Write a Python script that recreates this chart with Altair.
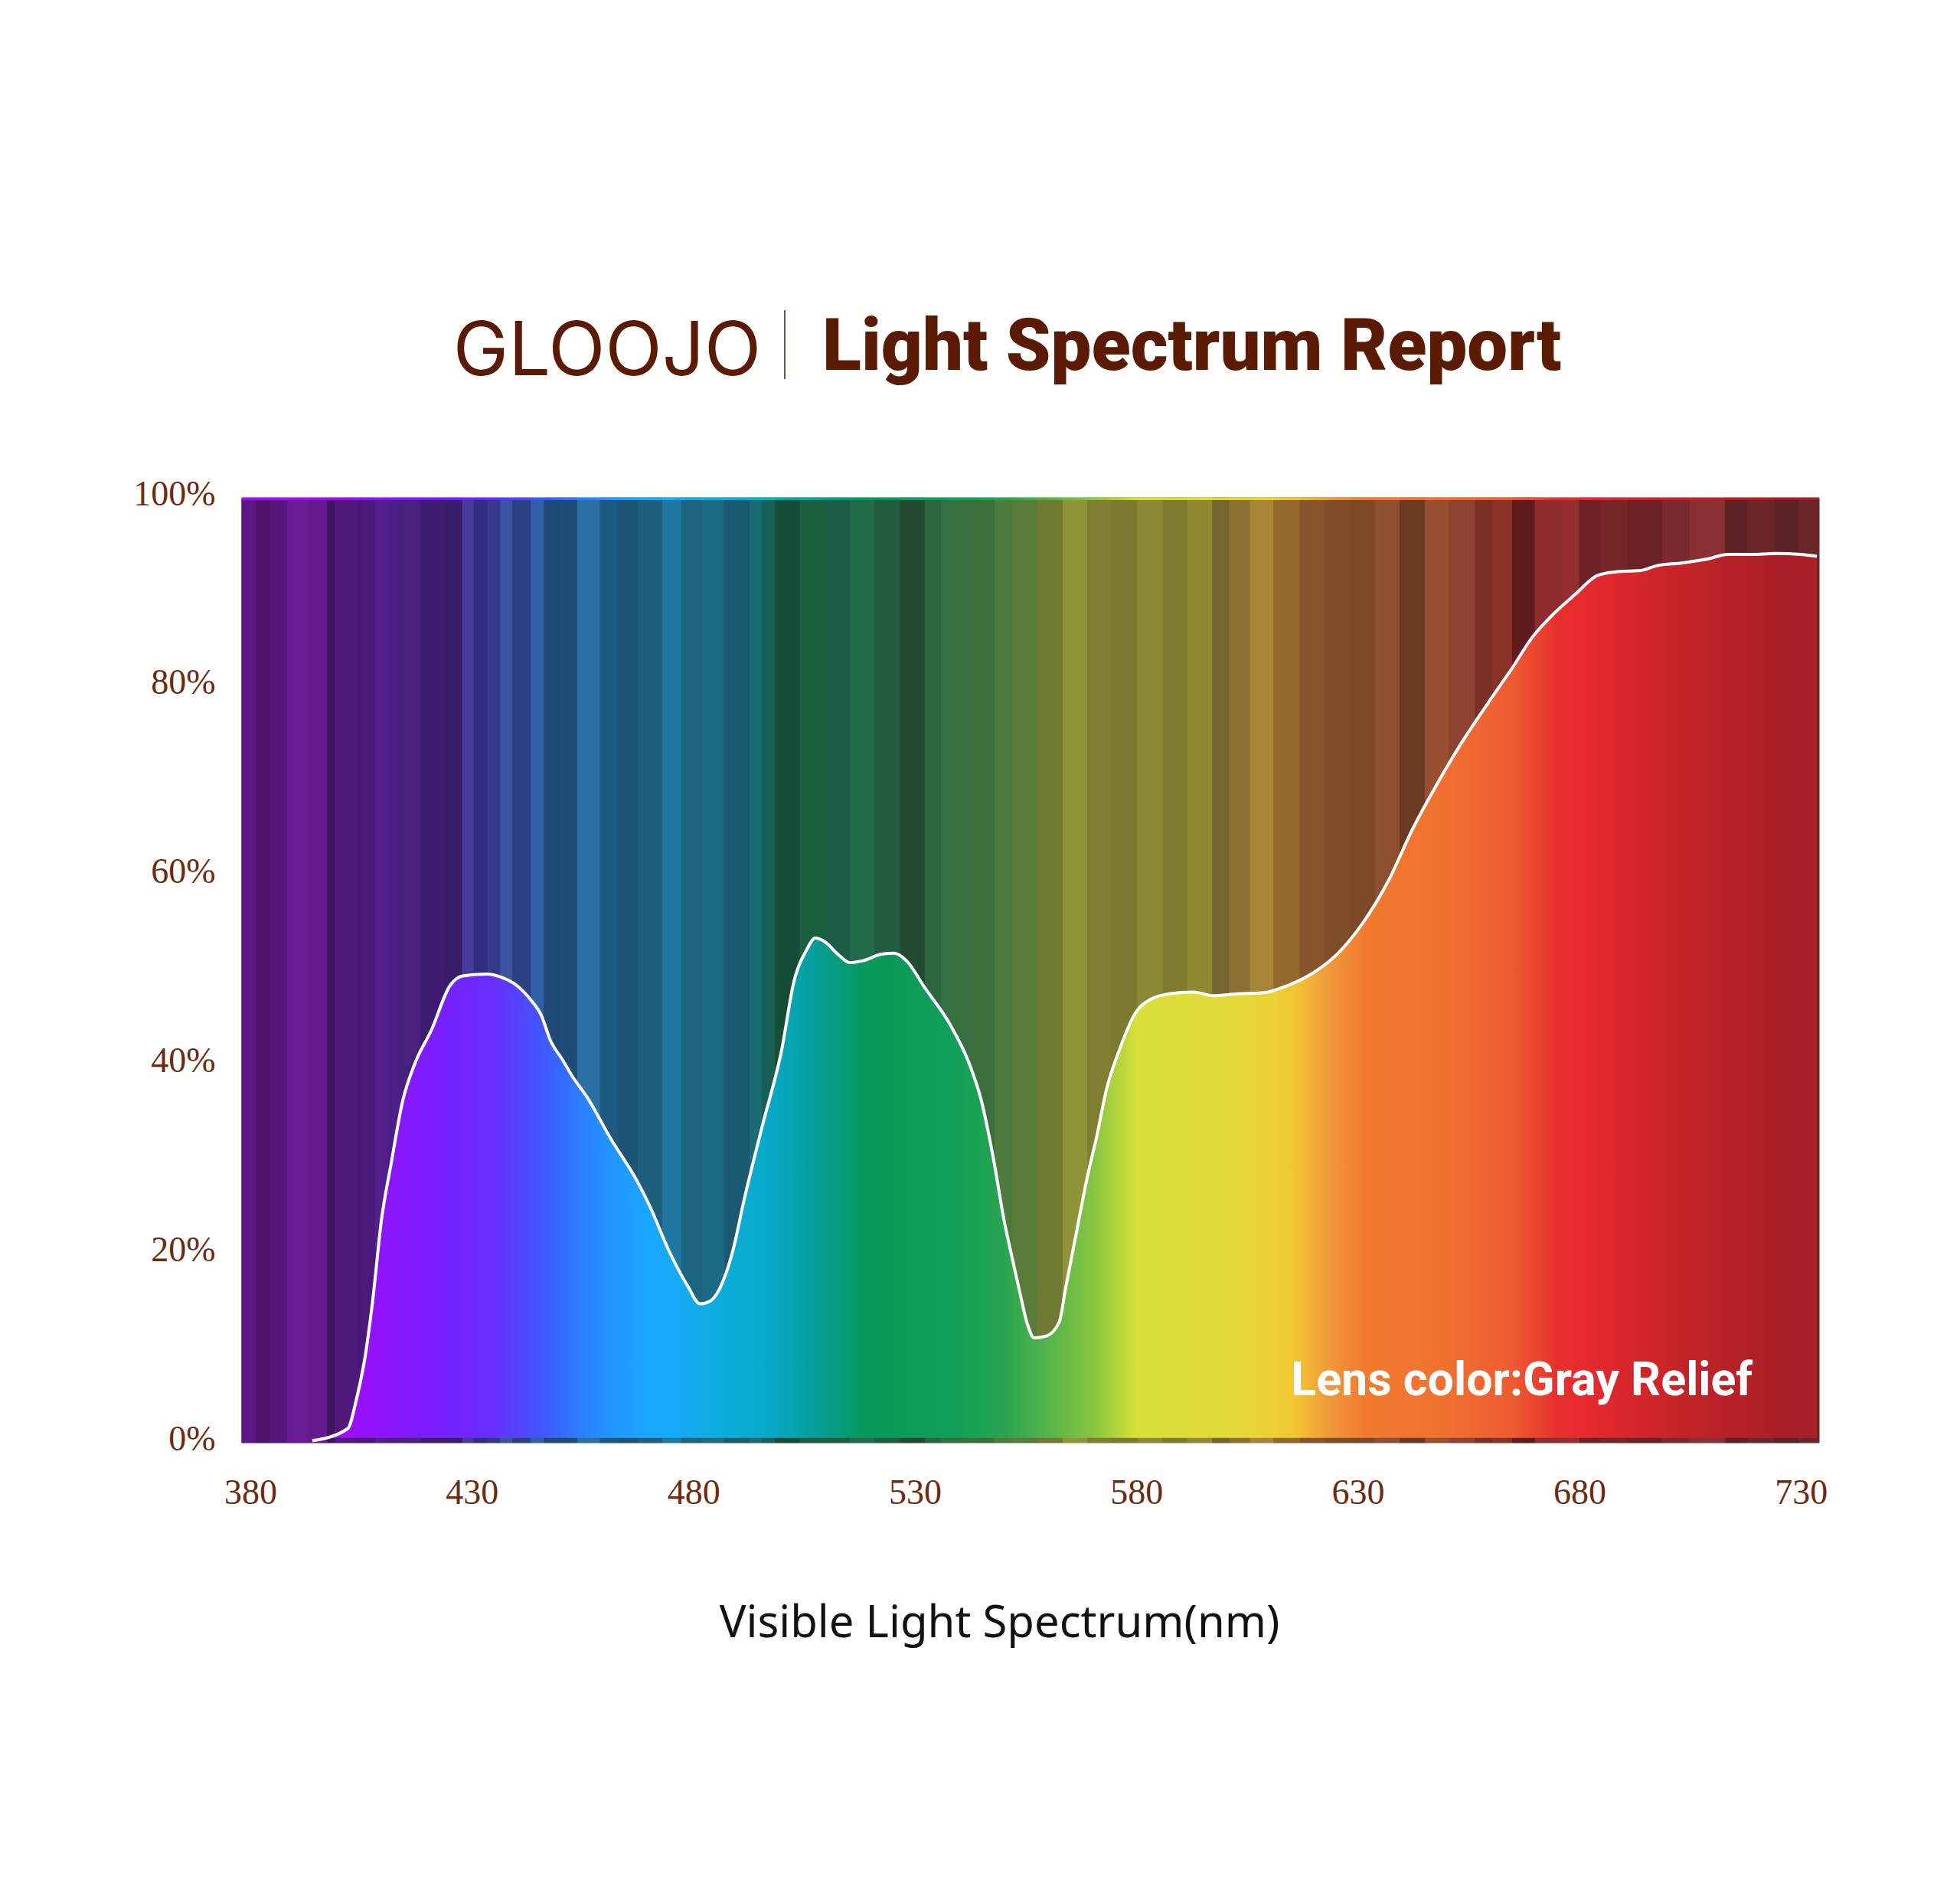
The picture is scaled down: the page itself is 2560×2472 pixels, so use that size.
import altair as alt
import pandas as pd

# ---------------- data ----------------
X_MIN, X_MAX = 378.1, 734.1

wavelength = [394.0, 402.0, 403.9, 405.9, 407.6, 409.6, 411.8, 414.4, 417.2, 420.9,
              425.1, 427.9, 433.6, 436.4, 440.1, 443.4, 445.7, 447.7, 450.5, 452.5,
              456.1, 461.2, 467.4, 470.2, 474.5, 478.7, 481.5, 483.8, 486.6, 488.9,
              491.4, 495.6, 499.9, 502.7, 505.5, 507.5, 509.7, 512.6, 515.4, 518.2,
              522.5, 525.3, 528.1, 532.3, 538.0, 542.2, 545.0, 547.9, 550.1, 551.6,
              553.5, 555.5, 556.9, 559.7, 562.6, 564.0, 566.2, 569.0, 571.0, 573.3,
              576.1, 579.8, 583.1, 587.4, 593.0, 597.3, 602.9, 608.5, 614.2, 619.8,
              625.5, 631.1, 636.8, 642.4, 648.1, 653.7, 659.4, 665.0, 669.3, 673.5,
              679.1, 684.2, 689.0, 693.8, 697.4, 703.1, 708.7, 713.5, 718.6, 724.3,
              729.9, 733.6]

transmittance = [0.2, 1.5, 4.5, 9.1, 15.0, 23.6, 29.6, 36.2, 40.2, 43.7,
                 48.4, 49.4, 49.6, 49.3, 48.4, 46.8, 45.2, 42.6, 40.5, 38.9,
                 36.5, 32.3, 27.6, 25.0, 20.3, 16.6, 14.7, 15.0, 17.0, 20.3,
                 25.6, 33.6, 41.5, 48.8, 52.1, 53.4, 53.0, 51.7, 50.8, 51.0,
                 51.7, 51.8, 51.0, 48.1, 44.2, 40.2, 36.2, 29.6, 23.6, 20.3,
                 16.3, 12.4, 11.1, 11.3, 12.8, 16.3, 21.6, 28.3, 32.3, 37.5,
                 41.5, 45.5, 46.9, 47.5, 47.7, 47.3, 47.5, 47.6, 48.4, 49.7,
                 51.8, 55.0, 59.4, 65.0, 69.9, 74.3, 78.3, 82.1, 85.2, 87.4,
                 89.8, 91.8, 92.2, 92.3, 92.8, 93.1, 93.5, 94.0, 94.0, 94.1,
                 94.0, 93.8]

# background (dimmed) spectrum stripes: start wavelength and colour
stripe_start = [378.1, 381.3, 384.5, 388.4, 393.0, 397.4, 399.1, 404.0, 408.2, 411.0,
                413.8, 418.5, 423.7, 427.9, 430.5, 433.6, 436.5, 439.2, 443.4, 446.3,
                450.0, 453.9, 459.0, 463.0, 467.5, 473.1, 477.3, 482.0, 487.0, 492.8,
                495.5, 498.5, 504.1, 509.5, 515.4, 521.0, 526.7, 532.3, 536.0, 539.5,
                543.6, 548.0, 552.1, 557.7, 563.4, 569.0, 574.5, 580.3, 586.0, 591.5,
                597.2, 601.0, 605.7, 611.0, 617.0, 622.5, 628.2, 634.0, 639.5, 645.2,
                650.5, 656.5, 660.5, 664.9, 670.0, 676.2, 680.0, 684.7, 691.0, 698.8,
                705.0, 712.9, 718.0, 724.2, 729.5]
stripe_color = ["#5e1787", "#4e1469", "#57177a", "#6a1b96", "#621a8c", "#3e1460", "#4f1a7a",
                "#4a1878", "#532089", "#4d1f84", "#48207e", "#3d1c70", "#3a1d6a", "#463a9e",
                "#322d80", "#36388e", "#3a55a0", "#2a4080", "#3060a8", "#1f4a78", "#1e4c76",
                "#2a70a2", "#1e5a80", "#1d5575", "#1e5f7d", "#2078a0", "#1c6580", "#1d6a85",
                "#1a5a70", "#1a6b75", "#186055", "#154d36", "#1a6040", "#1b5e45", "#226a4a",
                "#1f5c40", "#234a30", "#2d6540", "#356f42", "#3a7040", "#3c6e3c", "#4e7a3c",
                "#5b7b38", "#707a34", "#8f9438", "#807e30", "#7c7a30", "#8a8a35", "#7f7b2e",
                "#8e8a34", "#756530", "#8a7032", "#a88438", "#93682e", "#85562a", "#7e4e28",
                "#7c4a28", "#8c5030", "#6a3a22", "#985030", "#8c4430", "#7a3024", "#8a3228",
                "#5f1c1e", "#8f2c30", "#952e30", "#6e2226", "#752428", "#6a2226", "#7a2a2e",
                "#8a3034", "#5e2226", "#6a2628", "#5c2226", "#6a2628"]

# bright spectrum colours under the curve
grad_nm = [394, 403, 420, 435, 447, 455, 462, 471, 478, 488, 497, 508, 515, 520, 540,
           550, 560, 571, 580, 600, 611, 616, 624, 632, 650, 665, 675, 680, 700, 725, 734]
grad_color = ["#a40df5", "#9a10f8", "#7d1cff", "#662fff", "#3d5cff", "#2a80ff", "#2396ff",
              "#1aa9ff", "#14aaf0", "#0badd8", "#06aac8", "#049e96", "#069a70", "#089858",
              "#139f58", "#28a450", "#55b44c", "#8cc640", "#d8df38", "#e2da38", "#ecd034",
              "#f3c432", "#f0963a", "#f07a2e", "#f07030", "#ed5a30", "#e8302e", "#e82a2e",
              "#c92429", "#aa1f27", "#a81f27"]

x_ticks = [380, 430, 480, 530, 580, 630, 680, 730]
y_ticks = [0, 20, 40, 60, 80, 100]

BROWN = "#5b1a02"
LABEL_BROWN = "#6b2a12"

# ---------------- tables ----------------
curve = pd.DataFrame({"nm": wavelength, "t": transmittance})
curve["base"] = 0.5

stripe_end = stripe_start[1:] + [X_MAX]
stripes = pd.DataFrame({"x": stripe_start, "x2": stripe_end, "color": stripe_color[:len(stripe_start)]})
stripes["y"] = 100.0
stripes["y2"] = 0.0

top_band = pd.DataFrame({"x": [X_MIN], "x2": [X_MAX], "y": [100.0], "y2": [99.75]})

x0, x1 = wavelength[0], wavelength[-1]


def stops_for(lo, hi):
    out = []
    last = -1.0
    for n, c in zip(grad_nm, grad_color):
        off = min(1.0, max(0.0, (n - lo) / (hi - lo)))
        if off <= last:
            continue
        out.append(alt.GradientStop(offset=off, color=c))
        last = off
    return out


area_grad = alt.Gradient(gradient="linear", stops=stops_for(x0, x1), x1=0, x2=1, y1=0, y2=0)
band_grad = alt.Gradient(gradient="linear", stops=stops_for(X_MIN, X_MAX), x1=0, x2=1, y1=0, y2=0)

# ---------------- scales / axes ----------------
x_scale = alt.Scale(domain=[X_MIN, X_MAX], nice=False, zero=False)
y_scale = alt.Scale(domain=[0, 100], nice=False)

x_axis = alt.Axis(values=x_ticks, format="d", labelFont="Liberation Serif", labelFontSize=46,
                  labelColor=LABEL_BROWN, labelBaseline="alphabetic", labelPadding=79,
                  ticks=False, tickSize=0, domain=False, grid=False, labelFlush=False,
                  labelOverlap=False,
                  title="Visible Light Spectrum(nm)", titleFont="Noto Sans", titleFontSize=58,
                  titleFontWeight="normal", titleColor="#111111", titleX=989, titleY=253,
                  titleBaseline="alphabetic", titleAlign="center")
y_axis = alt.Axis(values=y_ticks, labelExpr="datum.value + '%'", labelFont="Liberation Serif",
                  labelFontSize=46, labelColor=LABEL_BROWN, labelPadding=35, labelOffset=-5,
                  ticks=False, tickSize=0, domain=True, domainColor="#9a9a9a", domainWidth=3,
                  grid=False, title=None, labelFlush=False, labelOverlap=False)

X = lambda f: alt.X(f, type="quantitative", scale=x_scale, axis=x_axis)
Y = lambda f: alt.Y(f, type="quantitative", scale=y_scale, axis=y_axis)

bg = alt.Chart(stripes).mark_rect(strokeWidth=1).encode(
    x=X("x"), x2="x2", y=Y("y"), y2="y2",
    color=alt.Color("color:N", scale=None),
    stroke=alt.Color("color:N", scale=None),
)

band = alt.Chart(top_band).mark_rect(color=band_grad).encode(
    x=X("x"), x2="x2", y=Y("y"), y2="y2")

area = alt.Chart(curve).mark_area(interpolate="monotone", color=area_grad).encode(
    x=X("nm"), y=Y("t"), y2="base")

line = alt.Chart(curve).mark_line(interpolate="monotone", color="white", strokeWidth=4).encode(
    x=X("nm"), y=Y("t"))

note = alt.Chart(pd.DataFrame({"x": [719.1], "y": [5.0], "label": ["Lens color:Gray Relief"]})).mark_text(
    font="Roboto", fontWeight="bold", fontSize=61, color="white", align="right", baseline="alphabetic"
).encode(x=X("x"), y=Y("y"), text="label:N")

logo = alt.Chart(pd.DataFrame({"t": ["GLOOJO"]})).mark_text(
    font="Inter", fontWeight=400, fontSize=97, color=BROWN, align="center", baseline="alphabetic"
).encode(text="t:N", x=alt.value(477), y=alt.value(-160))

sep = alt.Chart(pd.DataFrame({"a": [1]})).mark_rule(color="#6b5a52", strokeWidth=2).encode(
    x=alt.value(709), y=alt.value(-245), y2=alt.value(-155))

title = alt.Chart(pd.DataFrame({"t": ["Light Spectrum Report"]})).mark_text(
    font="Roboto", fontWeight=900, fontSize=94, color=BROWN, align="left", baseline="alphabetic"
).encode(text="t:N", x=alt.value(758), y=alt.value(-167))

chart = alt.layer(bg, band, area, line, note, logo, sep, title).properties(
    width=2060, height=1234,
    autosize=alt.AutoSizeParams(type="none"),
    padding={"left": 308, "top": 642, "right": 176, "bottom": 580},
    background="white",
).configure_view(stroke=None)

chart.save("out.html", embed_options={"renderer": "svg", "actions": False})
